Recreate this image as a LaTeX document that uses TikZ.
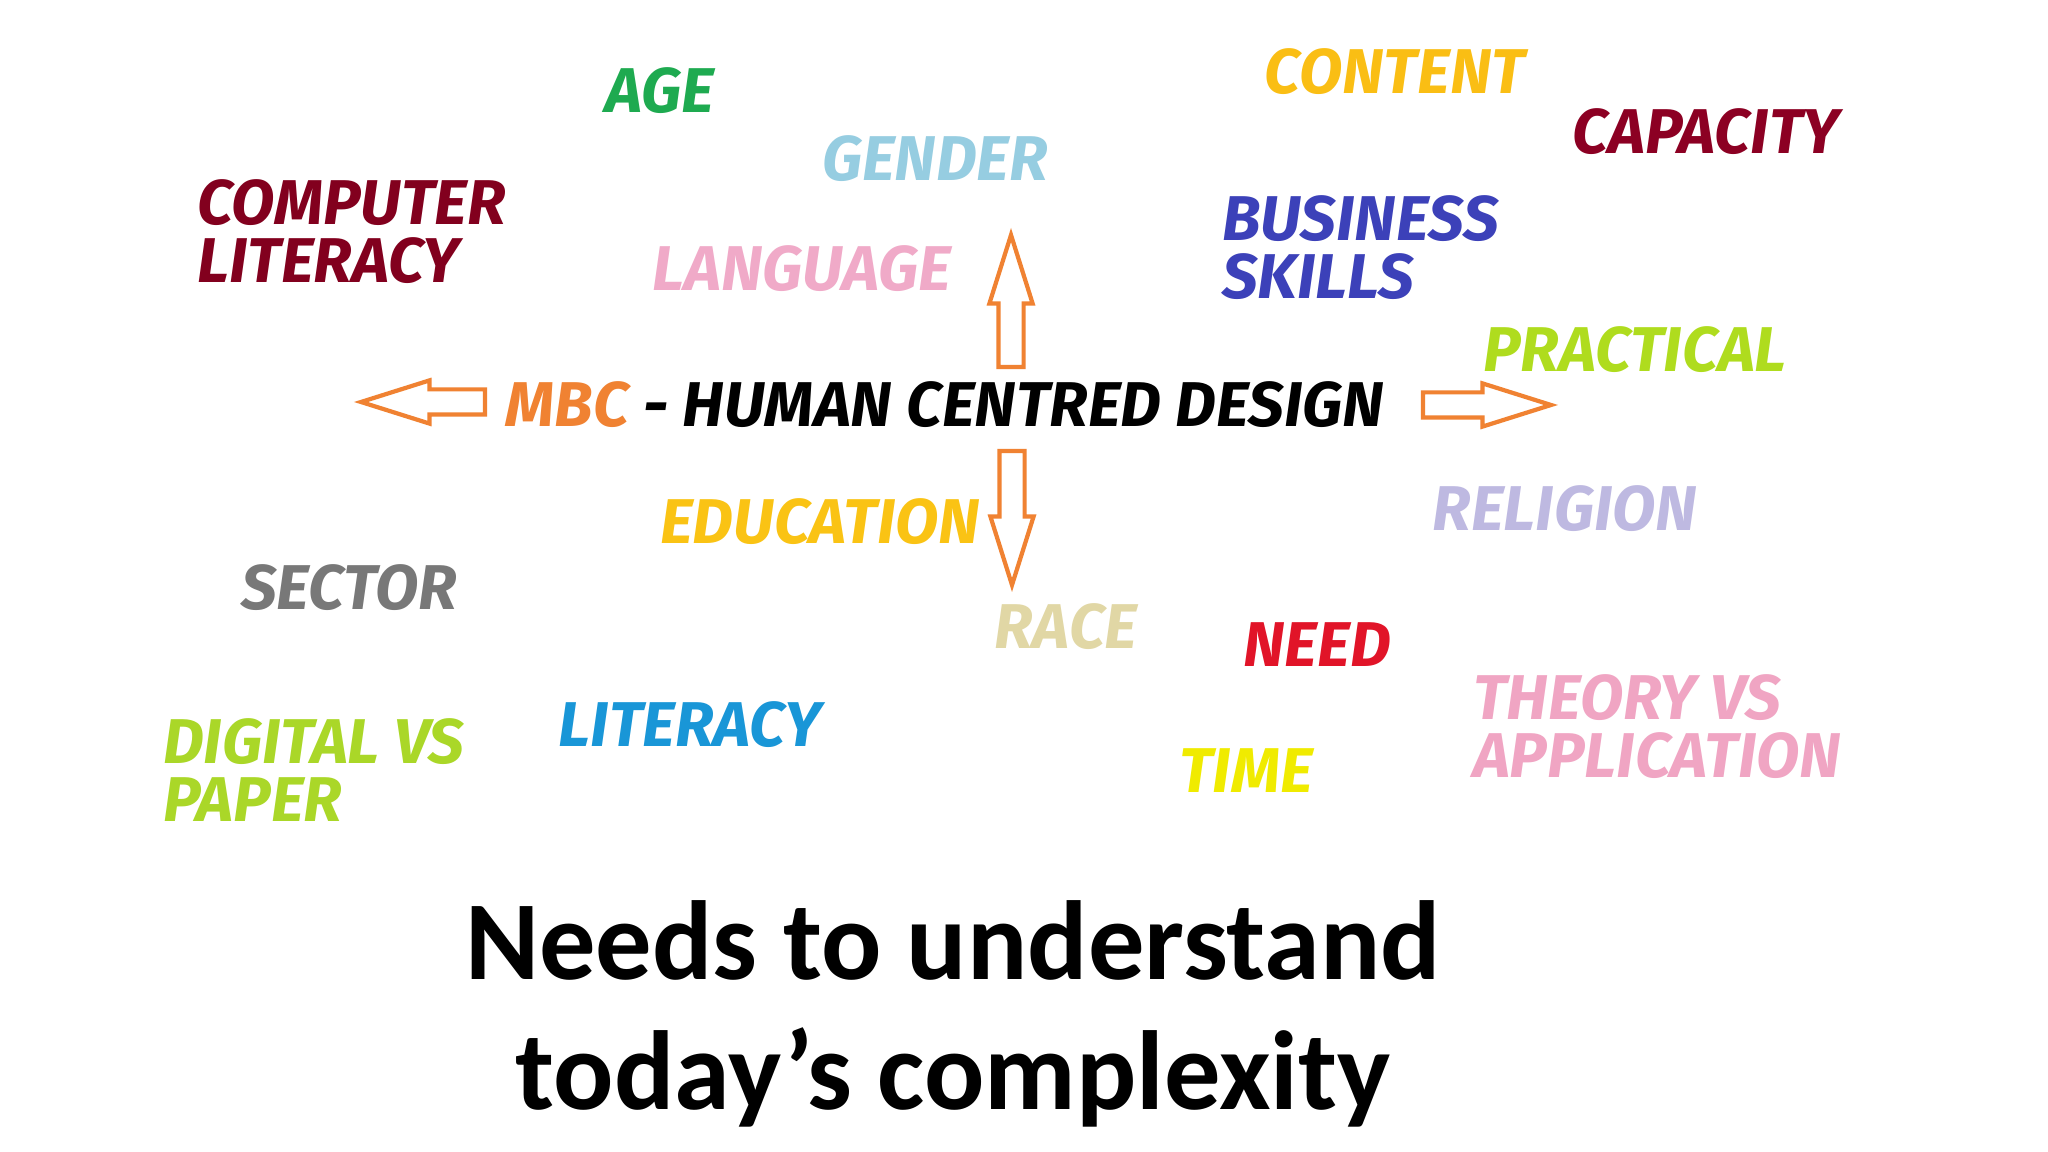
\documentclass[tikz,border=0pt]{standalone}
\usepackage{fontspec}
\usetikzlibrary{shapes.arrows}
\newfontfamily\comicfont{Fira Sans}
\newfontfamily\titlefont{Carlito}
\definecolor{ageC}{RGB}{30,170,80}
\definecolor{contentC}{RGB}{250,190,20}
\definecolor{capacityC}{RGB}{140,0,35}
\definecolor{genderC}{RGB}{150,205,225}
\definecolor{complitC}{RGB}{130,0,30}
\definecolor{businessC}{RGB}{60,65,185}
\definecolor{languageC}{RGB}{240,170,200}
\definecolor{practicalC}{RGB}{175,220,30}
\definecolor{mbcC}{RGB}{240,130,50}
\definecolor{educationC}{RGB}{250,195,20}
\definecolor{religionC}{RGB}{190,185,225}
\definecolor{sectorC}{RGB}{120,120,120}
\definecolor{raceC}{RGB}{225,215,165}
\definecolor{needC}{RGB}{225,20,40}
\definecolor{theoryC}{RGB}{240,165,195}
\definecolor{literacyC}{RGB}{25,150,215}
\definecolor{digitalC}{RGB}{170,215,40}
\definecolor{timeC}{RGB}{240,235,0}
\tikzset{
  word/.style={font=\comicfont\fontsize{18}{16.5}\selectfont\bfseries\itshape, inner sep=1pt},
  wordblock/.style={word, anchor=west, align=left},
  bigarrow/.style={single arrow, draw=mbcC, fill=white, line width=1.2pt, inner xsep=0pt,
    inner ysep=1.05mm, minimum height=12.4mm, minimum width=4.1mm, single arrow head extend=0.9mm,
    single arrow tip angle=35},
  vbigarrow/.style={bigarrow, inner xsep=1.05mm, inner ysep=0pt},
  heading/.style={font=\titlefont\fontsize{32}{38}\selectfont\bfseries, inner sep=0pt}
}
\begin{document}
\begin{tikzpicture}[x=0.1mm, y=-0.1mm]
\useasboundingbox[fill=white] (0,0) rectangle (2048,1152);
\node (age) [word, text=ageC] at (660,91) {AGE};
\node (content) [word, text=contentC] at (1395,72) {CONTENT};
\node (capacity) [word, text=capacityC] at (1706,132) {CAPACITY};
\node (gender) [word, text=genderC] at (935,159) {GENDER};
\node (complit) [wordblock, text=complitC] at (193,232) {COMPUTER\\LITERACY};
\node (business) [wordblock, text=businessC] at (1218,248) {BUSINESS\\SKILLS};
\node (language) [word, text=languageC] at (802,269) {LANGUAGE};
\node (practical) [word, text=practicalC] at (1635,350) {PRACTICAL};
\node (mbc) [word] at (945,405) {\textcolor{mbcC}{MBC} - HUMAN CENTRED DESIGN};
\node (arrW) [bigarrow, shape border rotate=180] at (443,402) {};
\node (arrE) [bigarrow, minimum height=12.8mm] at (1467,405) {};
\node (arrN) [vbigarrow, shape border rotate=90, minimum height=13.2mm] at (1011,321) {};
\node (arrS) [vbigarrow, shape border rotate=270, minimum height=13.4mm] at (1012,498) {};
\node (education) [word, text=educationC] at (820,522) {EDUCATION};
\node (religion) [word, text=religionC] at (1565,509) {RELIGION};
\node (sector) [word, text=sectorC] at (349,588) {SECTOR};
\node (race) [word, text=raceC] at (1066,627) {RACE};
\node (need) [word, text=needC] at (1317,645) {NEED};
\node (theory) [wordblock, text=theoryC] at (1469,727) {THEORY VS\\APPLICATION};
\node (literacy) [word, text=literacyC] at (690,725) {LITERACY};
\node (digital) [wordblock, text=digitalC] at (159,770) {DIGITAL VS\\PAPER};
\node (time) [word, text=timeC] at (1246,771) {TIME};
\node (title) [heading] at (953,940) {Needs to understand};
\node (subtitle) [heading] at (953,1077) {today’s complexity};
\end{tikzpicture}
\end{document}
